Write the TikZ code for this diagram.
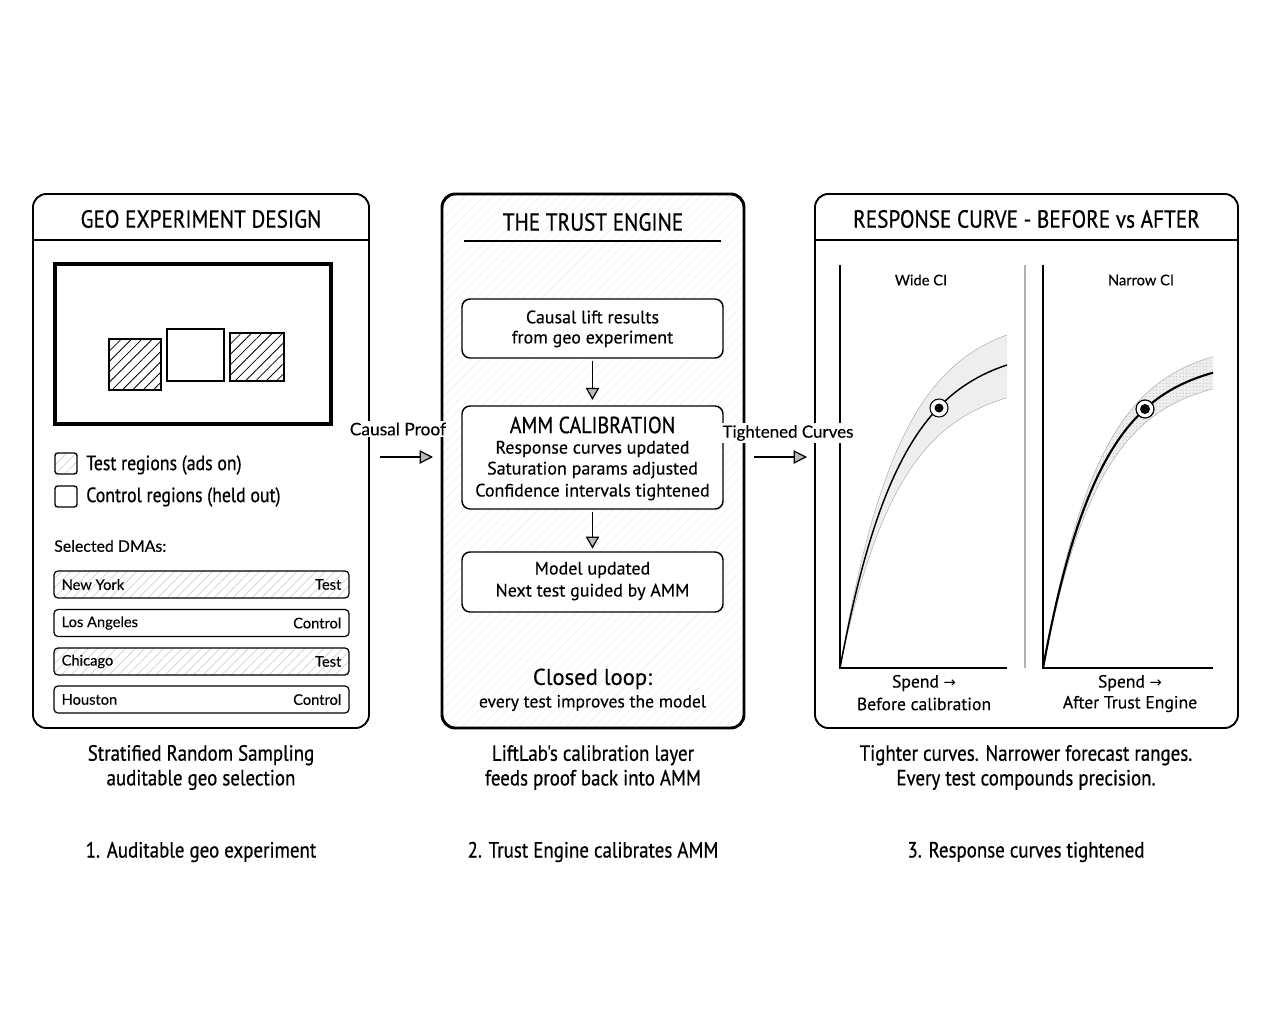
\documentclass[tikz,border=0pt]{standalone}
\usepackage{fontspec}
\setmainfont{PT Sans}[FakeBold=0.35]
\newfontfamily\cond{PT Sans}[FakeStretch=0.86,FakeBold=0.6]
\newfontfamily\hand{Lato}[FakeBold=0.2]
\newfontfamily\sym{DejaVu Sans}
\usetikzlibrary{arrows.meta,patterns,patterns.meta}
\newcommand{\fs}[1]{\fontsize{#1}{#1}\selectfont}
\begin{document}
\begin{tikzpicture}[x=0.75pt,y=-0.75pt,
  panel/.style={draw=black,line width=1.4pt,rounded corners=10pt,inner sep=0pt},
  ibox/.style={draw=black,line width=1.1pt,rounded corners=6pt,minimum width=195.75pt,inner sep=0pt},
  dma/.style={draw=black,line width=0.9pt,rounded corners=3pt,minimum width=221.25pt,minimum height=20.25pt,inner sep=0pt},
  testfill/.style={pattern={Lines[angle=45,distance=5pt,line width=0.4pt]},pattern color=gray!45},
  sq/.style={draw=black,line width=1pt,inner sep=0pt},
  hatch/.style={pattern={Lines[angle=45,distance=5.5pt,line width=0.6pt]},pattern color=black},
  arr/.style={line width=1.2pt,-{Triangle[length=10pt,width=10pt,fill=gray!55,line width=0.9pt]}},
  varr/.style={line width=1.1pt,-{Triangle[length=9pt,width=10pt,fill=gray!55,line width=0.9pt]}},
  ttl/.style={font=\cond\fs{18.5}},
  txt/.style={font=\fs{13.5},inner sep=0pt},
  captxt/.style={font=\cond\fs{16.5},inner sep=0pt,align=center},
  hnd/.style={font=\hand\fs{11},inner sep=0pt},
]
\useasboundingbox[fill=white] (0,0) rectangle (1272,1010);

% ---------------- Left panel ----------------
\node[panel,minimum width=252pt,minimum height=400.5pt] (lp) at (201,461) {};
\draw[line width=1pt] (33,240) -- (369,240);
\node[ttl] (lpt) at (201,219) {GEO EXPERIMENT DESIGN};
\node[draw=black,line width=2.6pt,minimum width=207pt,minimum height=120pt,inner sep=0pt] (map) at (193,344) {};
\node[sq,hatch,minimum width=39pt,minimum height=38.25pt] (sq1) at (135,364.5) {};
\node[sq,fill=white,minimum width=42.75pt,minimum height=39pt] (sq2) at (195.5,355) {};
\node[sq,hatch,minimum width=40.5pt,minimum height=36pt] (sq3) at (257,357) {};

\node[draw=black,line width=1pt,rounded corners=2pt,minimum width=16.5pt,minimum height=15.75pt,inner sep=0pt,testfill] (lg1) at (66,463.5) {};
\node[draw=black,line width=1pt,rounded corners=2pt,minimum width=16.5pt,minimum height=15.75pt,inner sep=0pt] (lg2) at (66,496.5) {};
\node[font=\cond\fs{15.5},inner sep=0pt,anchor=west] (lg1t) at (86,465) {Test regions (ads on)};
\node[font=\cond\fs{15.5},inner sep=0pt,anchor=west] (lg2t) at (86,497) {Control regions (held out)};
\node[hnd,font=\hand\fs{11.9},anchor=west] (sel) at (54,546) {Selected DMAs:};

\node[dma,testfill] (r1) at (201.5,584.5) {};
\node[dma] (r2) at (201.5,623) {};
\node[dma,testfill] (r3) at (201.5,661.5) {};
\node[dma] (r4) at (201.5,699.5) {};
\foreach \r/\a/\b in {r1/New York/Test,r2/Los Angeles/Control,r3/Chicago/Test,r4/Houston/Control}{
  \node[hnd,anchor=west] (\r a) at ([xshift=6pt]\r.west) {\a};
  \node[hnd,anchor=east] (\r b) at ([xshift=-6pt]\r.east) {\b};
}

% ---------------- Middle panel ----------------
\node[panel,line width=2.2pt,minimum width=226.5pt,minimum height=400.5pt,
  pattern={Lines[angle=45,distance=5pt,line width=0.5pt]},pattern color=gray!12] (mp) at (593,461) {};
\node[ttl] (mpt) at (593,222) {THE TRUST ENGINE};
\draw[line width=0.9pt] (464,241) -- (721,241);

\node[ibox,fill=white,minimum height=44.25pt] (b1) at (592.5,328.5) {};
\node[txt] at (592.5,317) {Causal lift results};
\node[txt] at (592.5,339) {from geo experiment};

\node[ibox,fill=white,minimum height=77.25pt] (b2) at (592.5,457.5) {};
\node[txt,font=\cond\fs{17.5}] at (592.5,425) {AMM CALIBRATION};
\node[txt] at (592.5,449) {Response curves updated};
\node[txt] at (592.5,470) {Saturation params adjusted};
\node[txt] at (592.5,492) {Confidence intervals tightened};

\node[ibox,fill=white,minimum height=45pt] (b3) at (592.5,582) {};
\node[txt] at (592.5,570) {Model updated};
\node[txt] at (592.5,592) {Next test guided by AMM};

\draw[varr] ([yshift=-2pt]b1.south) -- ([yshift=4pt]b2.north);
\draw[varr] ([yshift=-2pt]b2.south) -- ([yshift=2pt]b3.north);

\node[txt,font=\fs{17}] (cl) at (592.5,679) {Closed loop:};
\node[txt,font=\fs{13.2}] (cl2) at (592.5,703) {every test improves the model};

% ---------------- Right panel ----------------
\node[panel,minimum width=317.25pt,minimum height=400.5pt] (rp) at (1026.5,461) {};
\draw[line width=1pt] (815,240) -- (1238,240);
\node[ttl] (rpt) at (1026.5,219) {RESPONSE CURVE - BEFORE vs AFTER};

% left chart
\fill[gray!13] plot[domain=0:167,samples=60] ({840+\x},{668-355*(1-exp(-\x/60))})
   -- plot[domain=167:0,samples=60] ({840+\x},{668-288*(1-exp(-\x/60))}) -- cycle;
\draw[gray!60,line width=0.4pt] plot[domain=0:167,samples=60] ({840+\x},{668-355*(1-exp(-\x/60))});
\draw[gray!60,line width=0.4pt] plot[domain=0:167,samples=60] ({840+\x},{668-288*(1-exp(-\x/60))});
\draw[line width=1.1pt] plot[domain=0:167,samples=60] ({840+\x},{668-323*(1-exp(-\x/60))});
\draw[line width=1.2pt] (840,265) -- (840,668) -- (1007,668);
\draw[gray!60,line width=1.2pt] (1025,265) -- (1025,668);
\node[draw=black,fill=white,circle,line width=0.8pt,minimum size=13.5pt,inner sep=0pt] (d1) at (939,408) {};
\fill (d1) circle (4.5);
\node[hnd] (w1) at (921,280) {Wide CI};
\node[font=\fs{13.2},inner sep=0pt] (sp1) at (924,683) {Spend {\sym\fs{11}→}};
\node[font=\fs{13.2},inner sep=0pt] (bc) at (924,704) {Before calibration};

% right chart
\fill[gray!13] plot[domain=0:170,samples=60] ({1043+\x},{668-328*(1-exp(-\x/57))})
   -- plot[domain=170:0,samples=60] ({1043+\x},{668-294*(1-exp(-\x/57))}) -- cycle;
\fill[pattern={Dots[distance=2.5pt,radius=0.35pt]},pattern color=gray!70] plot[domain=0:170,samples=60] ({1043+\x},{668-328*(1-exp(-\x/57))})
   -- plot[domain=170:0,samples=60] ({1043+\x},{668-294*(1-exp(-\x/57))}) -- cycle;
\draw[gray!60,line width=0.4pt] plot[domain=0:170,samples=60] ({1043+\x},{668-328*(1-exp(-\x/57))});
\draw[gray!60,line width=0.4pt] plot[domain=0:170,samples=60] ({1043+\x},{668-294*(1-exp(-\x/57))});
\draw[line width=1.6pt] plot[domain=0:170,samples=60] ({1043+\x},{668-311*(1-exp(-\x/57))});
\draw[line width=1.2pt] (1043,265) -- (1043,668) -- (1213,668);
\node[draw=black,fill=white,circle,line width=0.9pt,minimum size=13.5pt,inner sep=0pt] (d2) at (1145,409) {};
\fill (d2) circle (5);
\node[hnd] (w2) at (1141,280) {Narrow CI};
\node[font=\fs{13.2},inner sep=0pt] (sp2) at (1130,683) {Spend {\sym\fs{11}→}};
\node[font=\fs{13.2},inner sep=0pt] (ate) at (1130,704) {After Trust Engine};

% ---------------- Connectors between panels ----------------
\coordinate (a1s) at (380,457);
\coordinate (a1e) at (433,457);
\coordinate (a2s) at (754,457);
\coordinate (a2e) at (807,457);
\node[hnd,font=\hand\fs{13},fill=white,inner sep=1.5pt] (cp) at (398,429) {Causal Proof};
\node[hnd,font=\hand\fs{12.7},fill=white,inner sep=1.5pt] (tc) at (788,433) {Tightened Curves};
\draw[arr] (a1s) -- (a1e);
\draw[arr] (a2s) -- (a2e);

% ---------------- Captions ----------------
\node[captxt] (c1) at (201,767.5) {Stratified Random Sampling\\[2pt]auditable geo selection};
\node[captxt] (c2) at (593,767.5) {LiftLab's calibration layer\\[2pt]feeds proof back into AMM};
\node[captxt] (c3) at (1026,767.5) {Tighter curves. Narrower forecast ranges.\\[2pt]Every test compounds precision.};
\node[captxt] (s1) at (201,852) {1. Auditable geo experiment};
\node[captxt] (s2) at (593,852) {2. Trust Engine calibrates AMM};
\node[captxt] (s3) at (1026,852) {3. Response curves tightened};
\end{tikzpicture}
\end{document}
